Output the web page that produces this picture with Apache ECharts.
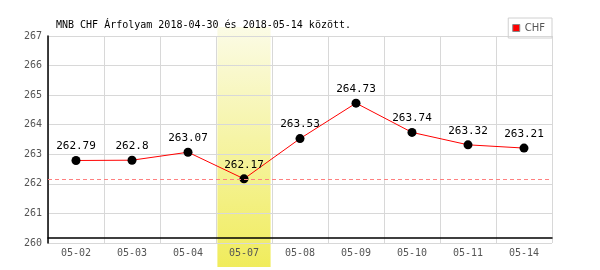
<!DOCTYPE html>
<html><head><meta charset="utf-8">
<script src="https://cdn.jsdelivr.net/npm/echarts@6/dist/echarts.min.js"></script>
<style>html,body{margin:0;padding:0;background:#fff}#c{width:600px;height:270px}</style>
</head><body><div id="c"></div>
<script>
var categories = ['05-02','05-03','05-04','05-07','05-08','05-09','05-10','05-11','05-14'];
var chfValues = [262.79, 262.8, 263.07, 262.17, 263.53, 264.73, 263.74, 263.32, 263.21];
var bandValues = [null, null, null, 1, null, null, null, null, null];
var yMin = 260, yMax = 267, yStep = 1;
var titleText = 'MNB CHF Árfolyam 2018-04-30 és 2018-05-14 között.';
var seriesName = 'CHF';

var mono = '"DejaVu Sans Mono", monospace';
var minVal = Math.min.apply(null, chfValues);
var chart = echarts.init(document.getElementById('c'), null, {renderer:'canvas'});
chart.setOption({
  animation: false,
  title: {text: titleText, left: 51, top: 15, textStyle: {fontFamily: mono, fontSize: 10, fontWeight: 'normal', color: '#000'}},
  legend: {data: [{name: seriesName, icon: 'rect', itemStyle: {color: '#f00', borderColor: '#888', borderWidth: 1}}],
    right: 48, top: 18, itemWidth: 7, itemHeight: 7, itemGap: 4,
    borderColor: '#d0d0d0', borderWidth: 1, padding: [5, 7, 5, 4],
    textStyle: {fontFamily: 'DejaVu Sans, sans-serif', fontSize: 10, color: '#555'}},
  grid: [
    {left: 48, right: 48, top: 36, bottom: 27, show: false},
    {left: 48, right: 48, top: 27, bottom: 3, show: false}
  ],
  xAxis: [
    {type: 'category', gridIndex: 0, data: categories, offset: -5,
      axisLine: {lineStyle: {color: '#000', width: 1.5}}, axisTick: {show: false},
      axisLabel: {fontFamily: mono, fontSize: 10, color: '#555', margin: 10},
      splitLine: {show: true, lineStyle: {color: '#d8d8d8'}}},
    {type: 'category', gridIndex: 1, data: categories, show: false}
  ],
  yAxis: [
    {type: 'value', gridIndex: 0, min: yMin, max: yMax, interval: yStep,
      axisLine: {show: true, lineStyle: {color: '#000', width: 1.5}}, axisTick: {show: false},
      axisLabel: {fontFamily: mono, fontSize: 10, color: '#555', margin: 6},
      splitLine: {lineStyle: {color: '#d8d8d8'}}},
    {type: 'value', gridIndex: 1, min: 0, max: 1, show: false}
  ],
  series: [
    {type: 'bar', xAxisIndex: 1, yAxisIndex: 1, data: bandValues, barWidth: '95%', z: -1, silent: true,
      itemStyle: {color: new echarts.graphic.LinearGradient(0, 0, 0, 1, [{offset: 0, color: '#fbfbe6'}, {offset: 1, color: '#f0ec5c'}])}},
    {type: 'line', data: chfValues, symbol: 'none', silent: true, z: 1,
      itemStyle: {color: '#ff8080'}, lineStyle: {opacity: 0}, color: '#ff8080',
      markLine: {silent: true, symbol: 'none', label: {show: false}, precision: 2,
        itemStyle: {color: '#ff8080'},
        lineStyle: {color: '#ff8080', type: [4, 3], width: 1, opacity: 1},
        emphasis: {disabled: true},
        data: [{yAxis: minVal}]}},
    {name: seriesName, type: 'line', data: chfValues, symbol: 'circle', symbolSize: 9,
      itemStyle: {color: '#000'}, lineStyle: {color: '#f00', width: 1},
      label: {show: true, position: 'top', distance: 4, fontFamily: mono, fontSize: 11, color: '#000'}}
  ]
});
</script></body></html>
